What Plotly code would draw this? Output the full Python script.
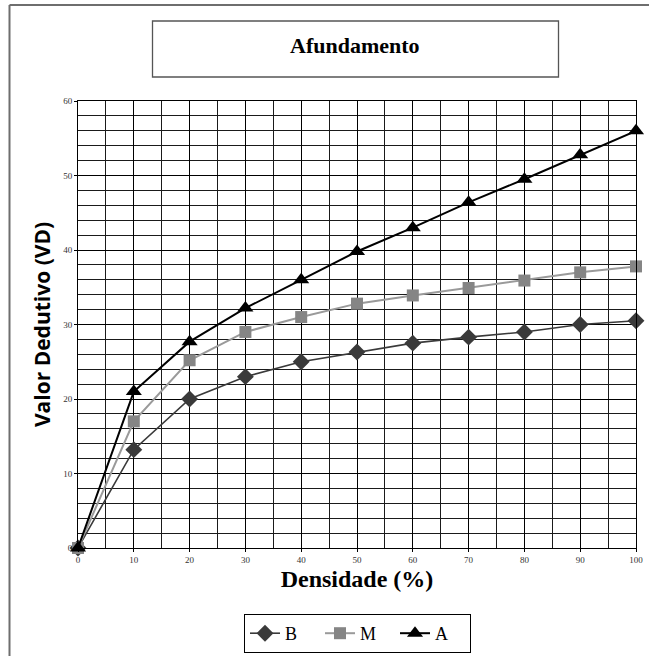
import plotly.graph_objects as go

# Densidade (%) on the x axis
densidade = [0, 10, 20, 30, 40, 50, 60, 70, 80, 90, 100]

# Valor Dedutivo for each severity level
vd_b = [0, 13.2, 20.0, 23.0, 25.0, 26.3, 27.5, 28.3, 29.0, 30.0, 30.5]
vd_m = [0, 17.0, 25.2, 29.0, 31.0, 32.8, 33.9, 34.9, 35.9, 37.0, 37.8]
vd_a = [0, 21.0, 27.7, 32.2, 36.0, 39.8, 43.0, 46.4, 49.5, 52.8, 56.0]

x_ticks = [0, 10, 20, 30, 40, 50, 60, 70, 80, 90, 100]
y_ticks = [0, 10, 20, 30, 40, 50, 60]

W, H = 649, 656
L, R, T, B = 78, 13, 101, 108
PW, PH = W - L - R, H - T - B

SERIF = "Liberation Serif"


def px(xp):
    return (xp - L) / PW


def py(yp):
    return (H - B - yp) / PH


fig = go.Figure()

fig.add_trace(go.Scatter(
    x=densidade, y=vd_b, name="B", mode="lines+markers",
    line=dict(color="#3a3a3a", width=1.6),
    marker=dict(symbol="diamond", size=13, color="#3a3a3a"),
    cliponaxis=False,
))
fig.add_trace(go.Scatter(
    x=densidade, y=vd_m, name="M", mode="lines+markers",
    line=dict(color="#9a9a9a", width=2),
    marker=dict(symbol="square", size=12, color="#858585"),
    cliponaxis=False,
))
fig.add_trace(go.Scatter(
    x=densidade, y=vd_a, name="A", mode="lines+markers",
    line=dict(color="#000000", width=2),
    marker=dict(symbol="triangle-up", size=14, color="#000000"),
    cliponaxis=False,
))

tick_font = dict(family=SERIF, size=9, color="#333333")

fig.update_xaxes(
    range=[0, 100], tickvals=x_ticks, ticktext=[str(v) for v in x_ticks],
    showgrid=True, gridcolor="#000000", gridwidth=1,
    minor=dict(dtick=5, showgrid=True, gridcolor="#1a1a1a", gridwidth=1),
    showline=True, linecolor="#000000", linewidth=1, mirror=True,
    ticks="outside", ticklen=3, tickcolor="#000000",
    tickfont=tick_font, zeroline=False, automargin=False,
    title=dict(text="Densidade (%)",
               font=dict(family=SERIF, size=24, color="#000000", weight="bold"),
               standoff=6),
)
fig.update_yaxes(
    range=[0, 60], tickvals=y_ticks, ticktext=[str(v) for v in y_ticks],
    showgrid=True, gridcolor="#000000", gridwidth=1,
    minor=dict(dtick=2, showgrid=True, gridcolor="#1a1a1a", gridwidth=1),
    showline=True, linecolor="#000000", linewidth=1, mirror=True,
    ticks="outside", ticklen=3, tickcolor="#000000",
    tickfont=tick_font, zeroline=False, automargin=False,
    title=dict(text="Valor Dedutivo (VD)",
               font=dict(family="Open Sans", size=21, color="#000000", weight="bold"),
               standoff=6),
)

shapes = [
    # outer frame (left and top edges)
    dict(type="line", xref="paper", yref="paper",
         x0=px(9.5), x1=px(9.5), y0=py(5), y1=py(H + 5),
         line=dict(color="#6e6e6e", width=2)),
    dict(type="line", xref="paper", yref="paper",
         x0=px(9.5), x1=px(W + 5), y0=py(5), y1=py(5),
         line=dict(color="#6e6e6e", width=2)),
    # title box
    dict(type="rect", xref="paper", yref="paper",
         x0=px(152.5), x1=px(558.5), y0=py(21), y1=py(77),
         line=dict(color="#555555", width=1.3), fillcolor="rgba(0,0,0,0)"),
]

annotations = [
    dict(text="Afundamento", xref="paper", yref="paper",
         x=px(355), y=py(45), xanchor="center", yanchor="middle",
         showarrow=False,
         font=dict(family=SERIF, size=22, color="#000000", weight="bold")),
]

fig.update_layout(
    width=W, height=H,
    margin=dict(l=L, r=R, t=T, b=B, autoexpand=False),
    paper_bgcolor="#ffffff", plot_bgcolor="#ffffff",
    shapes=shapes, annotations=annotations,
    showlegend=True,
    legend=dict(
        orientation="h", x=px(357.5), y=py(653), xanchor="center", yanchor="bottom",
        bordercolor="#000000", borderwidth=1, bgcolor="#ffffff",
        font=dict(family=SERIF, size=18, color="#000000"),
        entrywidth=30, entrywidthmode="pixels", tracegroupgap=0,
    ),
)

fig.write_html("out.html")
